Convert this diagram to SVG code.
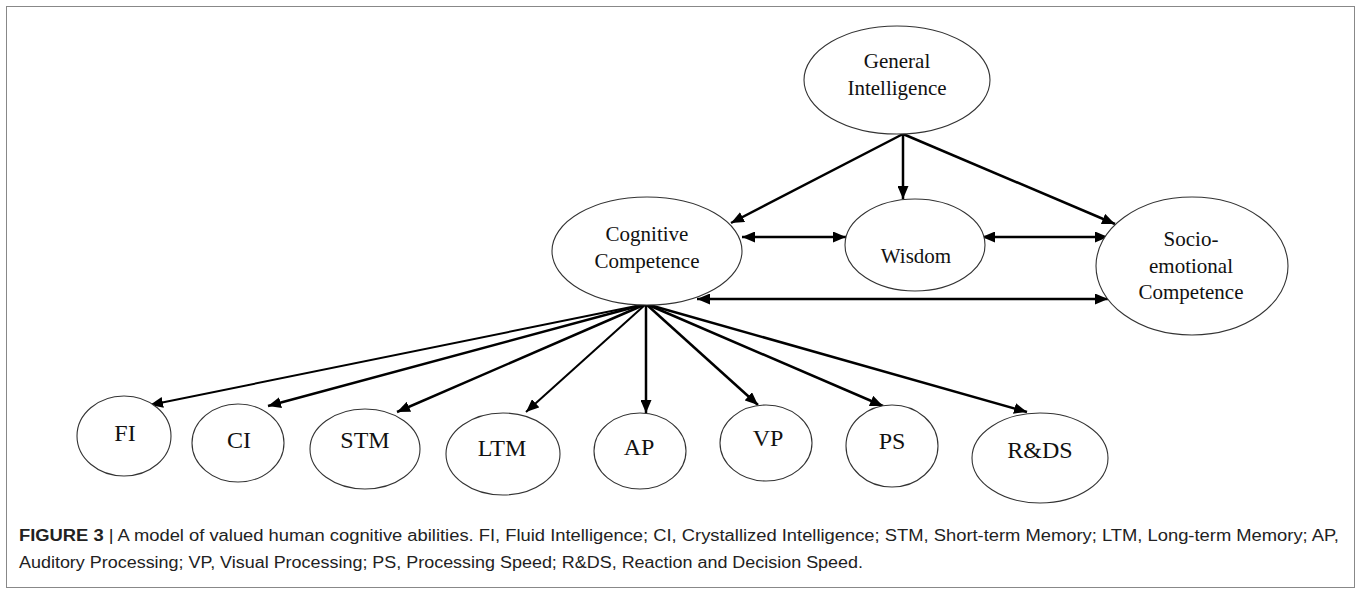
<svg xmlns="http://www.w3.org/2000/svg" width="1357" height="594" viewBox="0 0 1357 594">
<style>
.node ellipse{fill:#fff;stroke:#333;stroke-width:1.1}
.lbl{font-family:"Liberation Serif","Times New Roman",serif;font-size:21px;fill:#111;text-anchor:middle}
.big{font-size:24px}
.conn line{stroke:#000;stroke-width:2.5;fill:none}
.conn line.thin{stroke-width:2}
.cap{font-family:"Liberation Sans",Arial,sans-serif;font-size:16px;fill:#222}
</style>
<defs>
<marker id="ah" markerUnits="userSpaceOnUse" markerWidth="13" markerHeight="11" refX="13" refY="5.5" orient="auto-start-reverse" viewBox="0 0 13 11">
<path d="M0,0 L13,5.5 L0,11 z" fill="#000"/>
</marker>
</defs>
<rect x="6.5" y="6.5" width="1348" height="581" fill="#fff" stroke="#888" stroke-width="1"/>

<g class="conn" id="connectors">
<line x1="903" y1="134" x2="731" y2="223" marker-end="url(#ah)"/>
<line x1="903" y1="134" x2="903" y2="199" marker-end="url(#ah)"/>
<line x1="903" y1="134" x2="1115" y2="224" marker-end="url(#ah)"/>
<line x1="742" y1="237" x2="846" y2="237" marker-start="url(#ah)" marker-end="url(#ah)"/>
<line x1="982" y1="237" x2="1108" y2="237" marker-start="url(#ah)" marker-end="url(#ah)"/>
<line x1="697" y1="299" x2="1108" y2="299" marker-start="url(#ah)" marker-end="url(#ah)"/>
<line x1="646" y1="297" x2="646" y2="304"/>
<line class="thin" x1="646" y1="304" x2="150" y2="405" marker-end="url(#ah)"/>
<line x1="646" y1="304" x2="268" y2="406" marker-end="url(#ah)"/>
<line x1="646" y1="304" x2="397" y2="412" marker-end="url(#ah)"/>
<line class="thin" x1="646" y1="304" x2="526" y2="412" marker-end="url(#ah)"/>
<line x1="646" y1="304" x2="646" y2="413" marker-end="url(#ah)"/>
<line x1="646" y1="304" x2="758" y2="405" marker-end="url(#ah)"/>
<line x1="646" y1="304" x2="883" y2="406" marker-end="url(#ah)"/>
<line x1="646" y1="304" x2="1027" y2="412" marker-end="url(#ah)"/>
</g>

<g class="node" id="n-gi"><ellipse cx="897" cy="80" rx="93" ry="54"/>
<text class="lbl" x="897" y="68">General</text><text class="lbl" x="897" y="95">Intelligence</text></g>
<g class="node" id="n-cc"><ellipse cx="647" cy="251" rx="95" ry="54"/>
<text class="lbl" x="647" y="241">Cognitive</text><text class="lbl" x="647" y="268">Competence</text></g>
<g class="node" id="n-wis"><ellipse cx="915" cy="245" rx="70" ry="46"/>
<text class="lbl" x="916" y="263">Wisdom</text></g>
<g class="node" id="n-sec"><ellipse cx="1192" cy="266" rx="96" ry="69"/>
<text class="lbl" x="1191" y="246">Socio-</text><text class="lbl" x="1191" y="273">emotional</text><text class="lbl" x="1191" y="299">Competence</text></g>

<g class="node" id="n-fi"><ellipse cx="124" cy="436" rx="47" ry="40"/><text class="lbl big" x="125" y="441">FI</text></g>
<g class="node" id="n-ci"><ellipse cx="238" cy="443" rx="46" ry="39"/><text class="lbl big" x="239" y="448">CI</text></g>
<g class="node" id="n-stm"><ellipse cx="365" cy="449" rx="55" ry="40"/><text class="lbl big" x="365" y="448">STM</text></g>
<g class="node" id="n-ltm"><ellipse cx="503" cy="454" rx="57" ry="41"/><text class="lbl big" x="502" y="456">LTM</text></g>
<g class="node" id="n-ap"><ellipse cx="640" cy="451" rx="46" ry="38"/><text class="lbl big" x="639" y="455">AP</text></g>
<g class="node" id="n-vp"><ellipse cx="766" cy="443" rx="46" ry="38"/><text class="lbl big" x="768" y="446">VP</text></g>
<g class="node" id="n-ps"><ellipse cx="892" cy="446" rx="46" ry="41"/><text class="lbl big" x="892" y="449">PS</text></g>
<g class="node" id="n-rds"><ellipse cx="1040" cy="458" rx="68" ry="45"/><text class="lbl big" x="1040" y="458">R&amp;DS</text></g>

<text class="cap" x="19" y="541" textLength="1320" lengthAdjust="spacingAndGlyphs"><tspan font-weight="bold">FIGURE 3</tspan> | A model of valued human cognitive abilities. FI, Fluid Intelligence; CI, Crystallized Intelligence; STM, Short-term Memory; LTM, Long-term Memory; AP,</text>
<text class="cap" x="19" y="568" textLength="844" lengthAdjust="spacingAndGlyphs">Auditory Processing; VP, Visual Processing; PS, Processing Speed; R&amp;DS, Reaction and Decision Speed.</text>
</svg>
